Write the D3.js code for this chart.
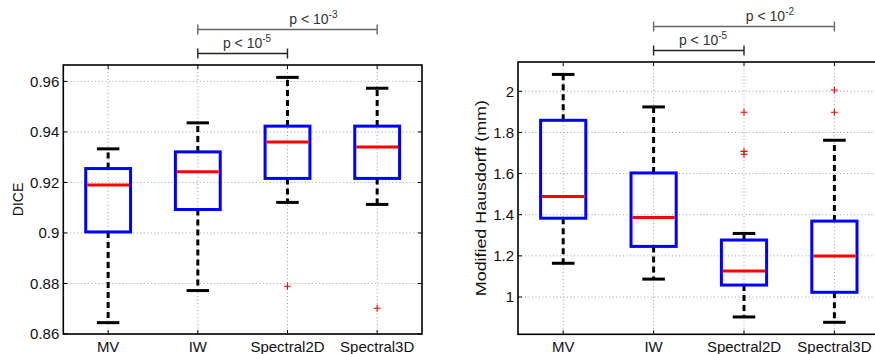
<!DOCTYPE html>
<html>
<head>
<meta charset="utf-8">
<script src="https://cdn.jsdelivr.net/npm/d3@7"></script>
<style>
  body { margin: 0; background: #fff; }
  text { font-family: "Liberation Sans", Arial, Helvetica, sans-serif; }
</style>
</head>
<body>
<svg id="chart" width="875" height="354"></svg>
<script>
"use strict";

const categories = ["MV", "IW", "Spectral2D", "Spectral3D"];

// [lower whisker, q1, median, q3, upper whisker]
const diceBoxes = [
    [0.8645, 0.9004, 0.9190, 0.9255, 0.9333],
    [0.8772, 0.9093, 0.9242, 0.9321, 0.9436],
    [0.9121, 0.9216, 0.9360, 0.9423, 0.9616],
    [0.9113, 0.9216, 0.9340, 0.9423, 0.9573]
];
const diceOutliers = [[], [], [0.8789], [0.8702]];
const diceTicks = [0.86, 0.88, 0.90, 0.92, 0.94, 0.96];
const diceTickLabels = ["0.86", "0.88", "0.9", "0.92", "0.94", "0.96"];
const diceDomain = [0.86, 0.9665];

const hausBoxes = [
    [1.164, 1.383, 1.489, 1.859, 2.082],
    [1.087, 1.246, 1.387, 1.603, 1.924],
    [0.903, 1.058, 1.126, 1.277, 1.309],
    [0.877, 1.023, 1.199, 1.369, 1.762]
];
const hausOutliers = [[], [], [1.898, 1.708, 1.694], [2.006, 1.898]];
const hausTicks = [1, 1.2, 1.4, 1.6, 1.8, 2];
const hausTickLabels = ["1", "1.2", "1.4", "1.6", "1.8", "2"];
const hausDomain = [0.8187, 2.1424];

// significance brackets: [from index, to index, exponent]
const diceSig = [[1, 2, "-5"], [1, 3, "-3"]];
const hausSig = [[1, 2, "-5"], [1, 3, "-2"]];

const svg = d3.select("#chart");

function drawPanel(opts) {
    const g = svg.append("g");
    const x = d3.scaleLinear().domain([0.5, 4.5]).range([opts.left, opts.right]);
    const y = d3.scaleLinear().domain(opts.domain).range([opts.bottom, opts.top]);

    // grid
    g.selectAll(".hgrid").data(opts.ticks).enter().append("line")
        .attr("x1", opts.left).attr("x2", opts.right)
        .attr("y1", d => y(d)).attr("y2", d => y(d))
        .attr("stroke", "#888").attr("stroke-width", 0.8)
        .attr("stroke-dasharray", "1,2.5");
    g.selectAll(".vgrid").data(categories).enter().append("line")
        .attr("x1", (d, i) => x(i + 1)).attr("x2", (d, i) => x(i + 1))
        .attr("y1", opts.top).attr("y2", opts.bottom)
        .attr("stroke", "#888").attr("stroke-width", 0.8)
        .attr("stroke-dasharray", "1,2.5");

    // frame
    g.append("rect")
        .attr("x", opts.left).attr("y", opts.top)
        .attr("width", opts.right - opts.left).attr("height", opts.bottom - opts.top)
        .attr("fill", "none").attr("stroke", "#000").attr("stroke-width", 1.6);

    // inward ticks
    opts.ticks.forEach(t => {
        g.append("line").attr("x1", opts.left).attr("x2", opts.left + 4)
            .attr("y1", y(t)).attr("y2", y(t)).attr("stroke", "#000");
        g.append("line").attr("x1", opts.right).attr("x2", opts.right - 4)
            .attr("y1", y(t)).attr("y2", y(t)).attr("stroke", "#000");
    });
    categories.forEach((c, i) => {
        g.append("line").attr("x1", x(i + 1)).attr("x2", x(i + 1))
            .attr("y1", opts.bottom).attr("y2", opts.bottom - 4).attr("stroke", "#000");
        g.append("line").attr("x1", x(i + 1)).attr("x2", x(i + 1))
            .attr("y1", opts.top).attr("y2", opts.top + 4).attr("stroke", "#000");
    });

    // tick labels
    g.selectAll(".ytl").data(opts.ticks).enter().append("text")
        .attr("x", opts.left - 4).attr("y", d => y(d))
        .attr("dy", "0.36em").attr("text-anchor", "end")
        .attr("font-size", 15).attr("fill", "#111")
        .text((d, i) => opts.tickLabels[i]);
    g.selectAll(".xtl").data(categories).enter().append("text")
        .attr("x", (d, i) => x(i + 1)).attr("y", 352)
        .attr("text-anchor", "middle")
        .attr("font-size", 15).attr("fill", "#111")
        .text(d => d);

    // y label
    const yl = g.append("text")
        .attr("transform", `translate(${opts.labelX},${(opts.top + opts.bottom) / 2}) rotate(-90)`)
        .attr("text-anchor", "middle")
        .attr("font-size", opts.labelSize).attr("fill", "#111")
        .text(opts.label);
    if (opts.labelLength) yl.attr("textLength", opts.labelLength).attr("lengthAdjust", "spacingAndGlyphs");

    // boxes
    const bw = 0.25, cw = 0.125;
    opts.boxes.forEach((b, i) => {
        const cx = i + 1;
        // whiskers
        g.append("line").attr("x1", x(cx)).attr("x2", x(cx))
            .attr("y1", y(b[3])).attr("y2", y(b[4]))
            .attr("stroke", "#000").attr("stroke-width", 3).attr("stroke-dasharray", "6,4");
        g.append("line").attr("x1", x(cx)).attr("x2", x(cx))
            .attr("y1", y(b[1])).attr("y2", y(b[0]))
            .attr("stroke", "#000").attr("stroke-width", 3).attr("stroke-dasharray", "6,4");
        // caps
        [b[0], b[4]].forEach(v => {
            g.append("line").attr("x1", x(cx - cw)).attr("x2", x(cx + cw))
                .attr("y1", y(v)).attr("y2", y(v))
                .attr("stroke", "#000").attr("stroke-width", 3);
        });
        // box
        g.append("rect")
            .attr("x", x(cx - bw)).attr("y", y(b[3]))
            .attr("width", x(cx + bw) - x(cx - bw)).attr("height", y(b[1]) - y(b[3]))
            .attr("fill", "none").attr("stroke", "#0000ff").attr("stroke-width", 3);
        // median
        g.append("line").attr("x1", x(cx - bw) + 1.5).attr("x2", x(cx + bw) - 1.5)
            .attr("y1", y(b[2])).attr("y2", y(b[2]))
            .attr("stroke", "#ff0000").attr("stroke-width", 3);
        // outliers
        opts.outliers[i].forEach(v => {
            g.append("path")
                .attr("d", `M${x(cx) - 3.5},${y(v)}h7M${x(cx)},${y(v) - 3.5}v7`)
                .attr("stroke", "#ff0000").attr("stroke-width", 1.1).attr("fill", "none");
        });
    });

    // significance brackets
    const levels = [opts.top - 11.5, opts.top - 35.5];
    const fracs = [0.28, 0.51];
    const colors = ["#222", "#666"];
    opts.sig.forEach((s, k) => {
        const x1 = x(s[0] + 1), x2 = x(s[1] + 1), ly = levels[k];
        g.append("path")
            .attr("d", `M${x1},${ly - 5}v10M${x1},${ly}H${x2}M${x2},${ly - 5}v10`)
            .attr("stroke", colors[k]).attr("stroke-width", 1.4).attr("fill", "none");
        const t = g.append("text")
            .attr("x", x1 + fracs[k] * (x2 - x1)).attr("y", ly - 5.5)
            .attr("font-size", 14).attr("fill", "#333");
        t.append("tspan").text("p < 10");
        t.append("tspan").attr("dy", -6).attr("font-size", 10).text(s[2]);
    });
}

drawPanel({
    left: 63.3, right: 422, top: 65, bottom: 334,
    domain: diceDomain, ticks: diceTicks, tickLabels: diceTickLabels,
    boxes: diceBoxes, outliers: diceOutliers, sig: diceSig,
    label: "DICE", labelX: 23, labelSize: 14
});

drawPanel({
    left: 518, right: 879.6, top: 62, bottom: 334.3,
    domain: hausDomain, ticks: hausTicks, tickLabels: hausTickLabels,
    boxes: hausBoxes, outliers: hausOutliers, sig: hausSig,
    label: "Modified Hausdorff (mm)", labelX: 486, labelSize: 15, labelLength: 196
});
</script>
</body>
</html>
